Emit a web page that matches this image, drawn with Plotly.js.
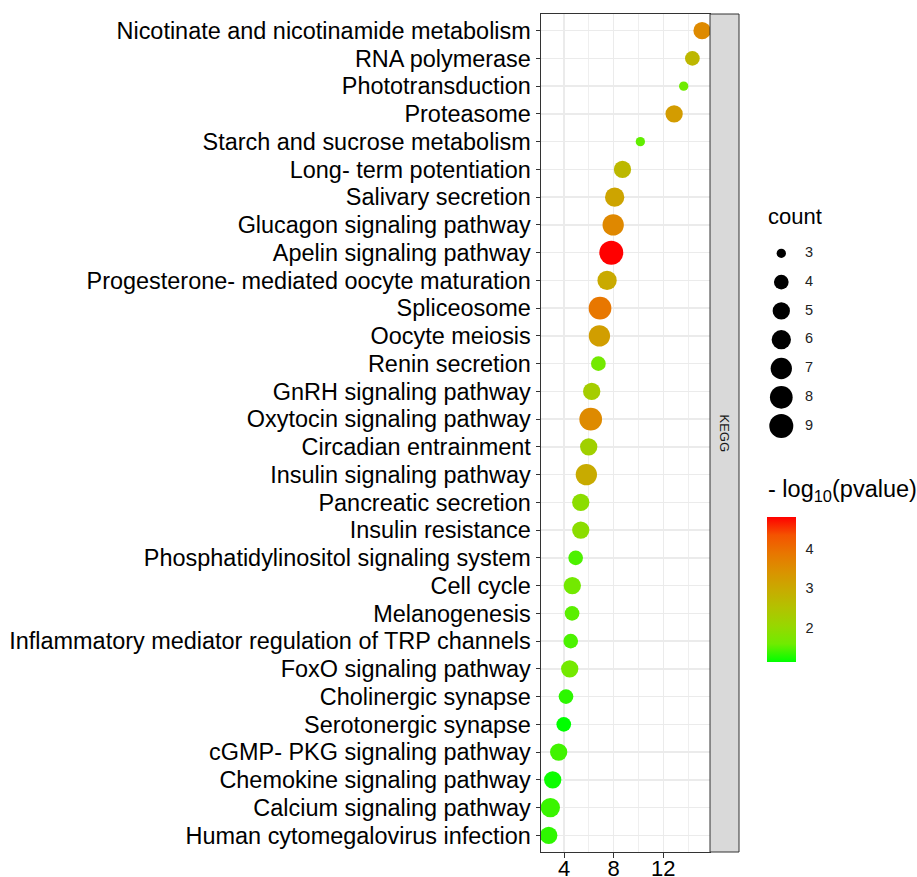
<!DOCTYPE html>
<html>
<head>
<meta charset="utf-8">
<script src="https://cdn.plot.ly/plotly-3.0.1.min.js"></script>
<style>html,body{margin:0;padding:0;background:#fff;}#chart{width:917px;height:877px;}</style>
</head>
<body>
<div id="chart"></div>
<script>
// ---- data ----
var pathways = [
  "Nicotinate and nicotinamide metabolism",
  "RNA polymerase",
  "Phototransduction",
  "Proteasome",
  "Starch and sucrose metabolism",
  "Long- term potentiation",
  "Salivary secretion",
  "Glucagon signaling pathway",
  "Apelin signaling pathway",
  "Progesterone- mediated oocyte maturation",
  "Spliceosome",
  "Oocyte meiosis",
  "Renin secretion",
  "GnRH signaling pathway",
  "Oxytocin signaling pathway",
  "Circadian entrainment",
  "Insulin signaling pathway",
  "Pancreatic secretion",
  "Insulin resistance",
  "Phosphatidylinositol signaling system",
  "Cell cycle",
  "Melanogenesis",
  "Inflammatory mediator regulation of TRP channels",
  "FoxO signaling pathway",
  "Cholinergic synapse",
  "Serotonergic synapse",
  "cGMP- PKG signaling pathway",
  "Chemokine signaling pathway",
  "Calcium signaling pathway",
  "Human cytomegalovirus infection"
];
var xValues = [15.12, 14.34, 13.64, 12.87, 10.15, 8.71, 8.08, 7.96, 7.81, 7.47,
               6.90, 6.85, 6.77, 6.23, 6.15, 5.99, 5.80, 5.35, 5.35, 4.94,
               4.67, 4.65, 4.54, 4.46, 4.16, 3.98, 3.57, 3.09, 2.90, 2.77];
var counts  = [5, 4, 3, 5, 3, 5, 6, 7, 9, 6,
               8, 7, 4, 5, 8, 5, 7, 5, 5, 4,
               5, 4, 4, 5, 4, 4, 5, 5, 6, 5];
var negLogP = [3.57, 2.73, 1.58, 3.25, 1.52, 2.71, 3.10, 3.60, 4.82, 2.99,
               3.88, 3.21, 1.62, 2.27, 3.56, 2.19, 2.97, 1.90, 1.90, 1.44,
               1.62, 1.49, 1.43, 1.63, 1.30, 1.12, 1.39, 1.17, 1.36, 1.31];
var legendCounts = [3, 4, 5, 6, 7, 8, 9];
var colorTicks = [2, 3, 4];
var xTicks = [4, 8, 12];

// ---- styles ----
var sizeForCount = {3: 9.3, 4: 14.7, 5: 17.3, 6: 19.3, 7: 21.3, 8: 22.7, 9: 24};
var greenRed = [
  [0, 'rgb(0,255,0)'], [0.125, 'rgb(112,235,0)'], [0.25, 'rgb(152,215,0)'],
  [0.375, 'rgb(179,194,0)'], [0.5, 'rgb(200,171,0)'], [0.625, 'rgb(218,146,0)'],
  [0.75, 'rgb(232,118,0)'], [0.875, 'rgb(244,83,0)'], [1, 'rgb(255,0,0)']
];
var FONT = 'Liberation Sans, Arial, Helvetica, sans-serif';
var W = 917, H = 877, ML = 541, MR = 0, MT = 14, MB = 25;
var pw = W - ML - MR, ph = H - MT - MB;
function px(X) { return (X - ML) / pw; }
function py(Y) { return (H - MB - Y) / ph; }

var cmin = Math.min.apply(null, negLogP), cmax = Math.max.apply(null, negLogP);
var CB_TOP = 517, CB_LEN = 145, CB_LEFT = 767, CB_TH = 29;

var main = {
  type: 'scatter', mode: 'markers',
  x: xValues, y: pathways,
  xaxis: 'x', yaxis: 'y',
  marker: {
    size: counts.map(function (c) { return sizeForCount[c]; }),
    sizemode: 'diameter',
    color: negLogP, colorscale: greenRed, cmin: cmin, cmax: cmax,
    line: {width: 0}, opacity: 1,
    showscale: true,
    colorbar: {
      x: px(CB_LEFT), xanchor: 'left', y: py(CB_TOP), yanchor: 'top',
      xref: 'paper', yref: 'paper',
      thicknessmode: 'pixels', thickness: CB_TH,
      lenmode: 'pixels', len: CB_LEN,
      xpad: 0, ypad: 0, outlinewidth: 0, borderwidth: 0,
      tickmode: 'array', tickvals: colorTicks, ticktext: colorTicks.map(String),
      ticks: 'outside', ticklen: 7, tickcolor: 'rgba(255,255,255,0)', tickwidth: 1,
      tickfont: {family: FONT, size: 14.5, color: '#222'}
    }
  },
  hoverinfo: 'skip', showlegend: false
};

var legY = legendCounts.map(function (c, i) { return 253.3 + 28.8 * i; });
var legMarkers = {
  type: 'scatter', mode: 'markers',
  x: legendCounts.map(function () { return 21.3; }), y: legY,
  xaxis: 'x2', yaxis: 'y2',
  marker: {size: legendCounts.map(function (c) { return sizeForCount[c]; }), color: 'rgb(0,0,0)', opacity: 1, line: {width: 0}},
  opacity: 1,
  hoverinfo: 'skip', showlegend: false
};
var legText = {
  type: 'scatter', mode: 'text',
  x: legendCounts.map(function () { return 45; }), y: legY,
  text: legendCounts.map(String), textposition: 'middle right',
  textfont: {family: FONT, size: 14.5, color: '#222'},
  xaxis: 'x2', yaxis: 'y2', hoverinfo: 'skip', showlegend: false
};

// white colourbar tick marks on both sides (ggplot style)
var cbTickShapes = [];
colorTicks.forEach(function (v) {
  var Y = CB_TOP + (cmax - v) / (cmax - cmin) * CB_LEN;
  cbTickShapes.push({type: 'line', xref: 'paper', yref: 'paper', x0: px(CB_LEFT), x1: px(CB_LEFT + 5.5),
    y0: py(Y), y1: py(Y), line: {color: 'rgba(255,255,255,0.85)', width: 1}, layer: 'above'});
  cbTickShapes.push({type: 'line', xref: 'paper', yref: 'paper', x0: px(CB_LEFT + CB_TH - 5.5), x1: px(CB_LEFT + CB_TH),
    y0: py(Y), y1: py(Y), line: {color: 'rgba(255,255,255,0.85)', width: 1}, layer: 'above'});
});

var layout = {
  width: W, height: H,
  margin: {l: ML, r: MR, t: MT, b: MB, pad: 0},
  paper_bgcolor: '#fff', plot_bgcolor: '#fff',
  font: {family: FONT, color: '#000'},
  showlegend: false,
  xaxis: {
    domain: [0, px(710)], range: [2.147, 15.76], automargin: false,
    tickmode: 'array', tickvals: xTicks, ticktext: xTicks.map(String),
    ticks: 'outside', ticklen: 4.5, tickwidth: 1, tickcolor: '#333',
    ticklabelstandoff: -8,
    tickfont: {family: FONT, size: 22, color: '#000'},
    showgrid: true, gridcolor: '#EBEBEB', gridwidth: 1.5,
    minor: {dtick: 2, tick0: 0, showgrid: true, gridcolor: '#EBEBEB', gridwidth: 0.8, ticks: ''},
    showline: true, linecolor: '#333', linewidth: 1, mirror: true,
    zeroline: false, fixedrange: true
  },
  yaxis: {
    type: 'category', categoryorder: 'array', categoryarray: pathways,
    range: [pathways.length - 0.4, -0.6], automargin: false,
    tickmode: 'array', tickvals: pathways, ticktext: pathways,
    ticks: 'outside', ticklen: 4.5, tickwidth: 1, tickcolor: '#333',
    tickfont: {family: FONT, size: 23.45, color: '#000'},
    showgrid: true, gridcolor: '#EBEBEB', gridwidth: 1.5,
    showline: true, linecolor: '#333', linewidth: 1, mirror: true,
    zeroline: false, fixedrange: true
  },
  xaxis2: {domain: [px(760), px(840)], range: [0, 80], visible: false, anchor: 'y2', fixedrange: true},
  yaxis2: {domain: [py(440), py(240)], range: [440, 240], visible: false, anchor: 'x2', fixedrange: true},
  shapes: [
    {type: 'rect', xref: 'paper', yref: 'paper', x0: px(710), x1: px(739), y0: 0, y1: 1,
     fillcolor: '#D9D9D9', line: {color: '#333', width: 1}, layer: 'above'}
  ].concat(cbTickShapes),
  annotations: [
    {xref: 'paper', yref: 'paper', x: px(724.5), y: 0.5, text: 'KEGG', textangle: 90,
     showarrow: false, font: {family: FONT, size: 13, color: '#1A1A1A'}, xanchor: 'center', yanchor: 'middle'},
    {xref: 'paper', yref: 'paper', x: px(766), y: py(217), text: 'count', showarrow: false,
     xanchor: 'left', yanchor: 'middle', font: {family: FONT, size: 22, color: '#000'}},
    {xref: 'paper', yref: 'paper', x: px(766), y: py(490), text: '- log<sub>10</sub>(pvalue)', showarrow: false,
     xanchor: 'left', yanchor: 'middle', font: {family: FONT, size: 23.5, color: '#000'}}
  ]
};

Plotly.newPlot('chart', [main, legMarkers, legText], layout, {staticPlot: true, displayModeBar: false});
</script>
</body>
</html>
